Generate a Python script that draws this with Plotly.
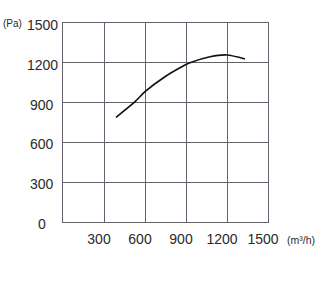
import plotly.graph_objects as go

# Data
flow = [388, 527, 600, 746, 893, 929, 1076, 1198, 1332]          # m³/h
pressure = [789, 907, 982, 1095, 1183, 1201, 1246, 1259, 1229]  # Pa

x_ticks = [300, 600, 900, 1200, 1500]
x_tick_labels = ["300", "600", "900", "1200", "1500"]
y_ticks = [0, 300, 600, 900, 1200, 1500]
y_tick_labels = ["0", "300", "600", "900", "1200", "1500"]

grid_color = "#66606c"
text_color = "#2a2a2a"
font_family = "Liberation Sans, Arial, sans-serif"

fig = go.Figure()
fig.add_trace(go.Scatter(
    x=flow, y=pressure, mode="lines",
    line=dict(color="#111111", width=1.6, shape="spline", smoothing=0.8),
    hoverinfo="skip", showlegend=False,
))

fig.update_layout(
    width=319, height=293,
    margin=dict(l=63, r=51, t=23, b=71),
    paper_bgcolor="white", plot_bgcolor="white",
    font=dict(family=font_family, color=text_color, size=14),
    showlegend=False,
)

fig.update_xaxes(
    range=[0, 1500], tickvals=x_ticks, ticktext=x_tick_labels,
    showgrid=True, gridcolor=grid_color, gridwidth=1,
    showline=True, linecolor=grid_color, linewidth=1, mirror=True,
    zeroline=False, ticks="", ticklabelstandoff=4, ticklabelshift=-5,
    tickfont=dict(size=14, color=text_color, family=font_family),
    fixedrange=True,
)
fig.update_yaxes(
    range=[0, 1500], tickvals=y_ticks, showticklabels=False,
    showgrid=True, gridcolor=grid_color, gridwidth=1,
    showline=True, linecolor=grid_color, linewidth=1, mirror=True,
    zeroline=False, ticks="", fixedrange=True,
)

# Y tick labels, centred in the left gutter
for v, lab in zip(y_ticks, y_tick_labels):
    fig.add_annotation(
        x=0, xref="paper", xshift=-21, y=v, yref="y", yshift=-2,
        text=lab, showarrow=False, xanchor="center", yanchor="middle",
        font=dict(size=14, color=text_color, family=font_family),
    )

# Unit labels
fig.add_annotation(
    x=0, xref="paper", xshift=-51, y=1500, yref="y",
    text="(Pa)", showarrow=False, xanchor="center", yanchor="middle",
    font=dict(size=10, color=text_color, family=font_family),
)
fig.add_annotation(
    x=1, xref="paper", xshift=33, y=0, yref="paper", yshift=-18,
    text="(m³/h)", showarrow=False, xanchor="center", yanchor="middle",
    font=dict(size=10.5, color=text_color, family=font_family),
)

fig.write_html("out.html")
